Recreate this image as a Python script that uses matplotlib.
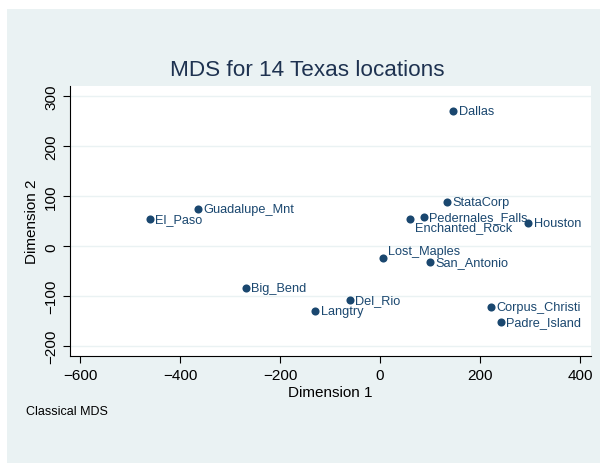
import matplotlib.pyplot as plt
from matplotlib.patches import Rectangle

plt.rcParams['font.family'] = ['Liberation Sans', 'DejaVu Sans']

names = ['Dallas', 'StataCorp', 'Pedernales_Falls', 'Enchanted_Rock', 'Houston',
         'Guadalupe_Mnt', 'El_Paso', 'Big_Bend', 'Lost_Maples', 'San_Antonio',
         'Del_Rio', 'Langtry', 'Corpus_Christi', 'Padre_Island']
dim1 = [146, 134, 87, 59, 296, -364, -461, -269, 5, 100, -61, -130, 222, 241]
dim2 = [271, 89, 58, 55, 47, 75, 54, -83, -24, -31, -108, -130, -121, -152]

# label offsets in points (most sit to the right of the marker)
offsets = {'Lost_Maples': (4, 5), 'Enchanted_Rock': (4, -6)}

navy = '#1a476f'
bg = '#eaf2f3'

fig = plt.figure(figsize=(6, 4.64), dpi=100)
fig.patch.set_facecolor('white')
fig.patches.append(Rectangle((7/600, 0), 593/600, 454/464, transform=fig.transFigure,
                             facecolor=bg, edgecolor='none', zorder=-10))

ax = fig.add_axes([70/600, (464-357.3)/464, 521/600, (357.3-86.7)/464])
ax.set_facecolor('white')

ax.scatter(dim1, dim2, s=34, color=navy, zorder=3, linewidths=0)
for n, x, y in zip(names, dim1, dim2):
    dx, dy = offsets.get(n, (4, 0))
    ax.annotate(n, (x, y), xytext=(dx, dy), textcoords='offset points',
                va='center', ha='left', fontsize=9.2, color=navy)

ax.set_xlim(-620, 422)
ax.set_ylim(-220, 321)
ax.set_xticks([-600, -400, -200, 0, 200, 400])
ax.set_xticklabels(['\u2212600', '\u2212400', '\u2212200', '0', '200', '400'])
ax.set_yticks([-200, -100, 0, 100, 200, 300])
ax.set_yticklabels(['\u2212200', '\u2212100', '0', '100', '200', '300'],
                   rotation=90, va='center')
ax.tick_params(labelsize=11, length=5, color='black')
ax.grid(axis='y', color=bg, linewidth=1)
ax.set_axisbelow(True)
for s in ['top', 'right']:
    ax.spines[s].set_visible(False)

ax.set_xlabel('Dimension 1', fontsize=11, labelpad=2)
ax.set_ylabel('Dimension 2', fontsize=11, labelpad=4)

fig.text(307/600, (464-71)/464, 'MDS for 14 Texas locations', ha='center', va='center',
         fontsize=16.2, color='#1e3250')
fig.text(26/600, (464-412)/464, 'Classical MDS', ha='left', va='center', fontsize=9)

fig.savefig('out.png', dpi=100)
